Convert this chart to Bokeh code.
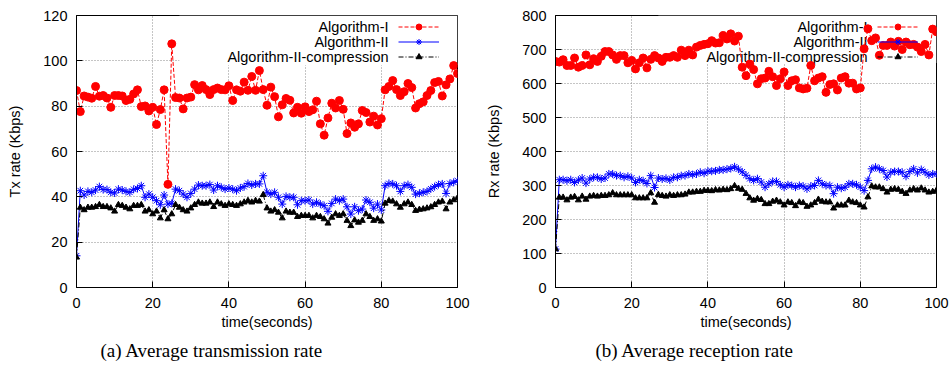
from bokeh.plotting import figure
from bokeh.models import (Legend, LegendItem, Label, BoxAnnotation, Range1d,
                          FixedTicker)
from bokeh.layouts import row
from bokeh.embed import file_html
from bokeh.resources import INLINE

# ---------------- data ----------------
time_s = list(range(0, 101))
time_ticks = [0, 20, 40, 60, 80, 100]
tx_ticks = [0, 20, 40, 60, 80, 100, 120]
rx_ticks = [0, 100, 200, 300, 400, 500, 600, 700, 800]
series_names = ["Algorithm-I", "Algorithm-II", "Algorithm-II-compression"]
captions = ["(a) Average transmission rate", "(b) Average reception rate"]

tx_alg1 = [86.9, 77.6, 84.5, 84.0, 83.5, 88.7, 84.4, 84.7, 83.6, 79.5,
           84.7, 84.7, 84.5, 82.5, 83.0, 85.4, 87.2, 79.8, 80.1, 77.9,
           79.5, 71.9, 78.5, 87.2, 45.5, 107.5, 83.8, 83.6, 78.8, 83.6,
           84.0, 89.5, 87.2, 89.1, 87.3, 85.1, 87.3, 88.0, 87.3, 87.2,
           89.0, 82.5, 87.2, 86.6, 90.6, 87.0, 93.1, 87.0, 95.7, 87.3,
           80.4, 88.4, 84.2, 75.3, 80.6, 83.4, 82.6, 77.0, 79.5, 76.9,
           79.7, 77.6, 78.4, 82.2, 72.2, 67.2, 74.8, 81.3, 79.2, 82.5,
           78.6, 67.9, 72.6, 70.7, 72.2, 78.1, 77.2, 73.0, 75.6, 71.7,
           74.5, 87.2, 88.7, 91.3, 87.3, 84.7, 86.4, 90.0, 88.2, 79.2,
           81.1, 81.9, 84.7, 86.9, 90.4, 90.9, 84.5, 89.4, 92.0, 97.9,
           94.4]
tx_alg2 = [14.0, 42.7, 40.8, 42.4, 42.0, 43.0, 44.5, 43.2, 43.2, 42.0,
           41.7, 43.4, 43.0, 42.4, 42.0, 43.3, 43.7, 44.9, 39.8, 41.2,
           39.8, 38.3, 36.5, 40.8, 36.8, 37.1, 43.4, 42.7, 41.2, 39.8,
           41.5, 43.4, 45.2, 44.9, 44.9, 45.4, 43.0, 44.9, 44.2, 43.4,
           43.9, 43.4, 42.7, 43.9, 44.5, 45.9, 45.2, 45.7, 45.7, 49.3,
           42.0, 41.2, 42.0, 39.8, 36.8, 40.2, 39.8, 39.8, 36.5, 38.3,
           38.3, 38.6, 36.8, 37.6, 36.8, 36.1, 33.6, 37.1, 39.0, 38.3,
           39.0, 35.6, 32.4, 35.6, 33.9, 34.6, 38.6, 37.6, 35.0, 36.8,
           34.2, 44.9, 45.9, 45.7, 44.9, 42.4, 44.9, 45.4, 44.2, 41.2,
           41.6, 42.0, 42.4, 43.5, 44.5, 45.4, 45.7, 41.5, 45.9, 46.4,
           47.1]
tx_alg2c = [13.3, 35.3, 34.2, 35.3, 35.3, 35.6, 36.5, 35.6, 35.6, 35.0,
            33.6, 36.5, 36.1, 35.3, 34.6, 36.1, 36.1, 36.5, 33.6, 34.2,
            32.4, 33.6, 30.6, 34.2, 30.2, 32.4, 36.5, 35.3, 34.2, 33.6,
            35.0, 36.5, 37.6, 37.1, 37.1, 37.6, 35.6, 37.6, 36.8, 36.1,
            36.8, 36.5, 36.1, 36.8, 37.6, 38.3, 37.6, 38.3, 38.0, 40.9,
            35.0, 33.6, 34.2, 33.1, 30.6, 33.6, 33.1, 33.1, 31.2, 31.7,
            31.7, 31.7, 30.6, 31.7, 31.2, 30.2, 28.3, 30.9, 32.4, 31.7,
            32.4, 29.5, 27.2, 29.7, 28.7, 29.5, 32.4, 31.2, 29.5, 30.2,
            29.2, 37.1, 38.3, 38.0, 36.8, 35.3, 36.8, 37.6, 36.5, 33.9,
            34.4, 34.6, 35.0, 35.5, 36.5, 37.6, 38.0, 34.6, 37.6, 38.6,
            39.5]

rx_alg1 = [665, 663, 670, 653, 653, 675, 648, 653, 684, 655,
           673, 665, 680, 694, 694, 684, 671, 682, 682, 661,
           668, 643, 661, 675, 646, 671, 682, 675, 665, 677,
           677, 682, 677, 698, 682, 698, 684, 707, 712, 715,
           717, 726, 719, 720, 741, 731, 746, 725, 739, 648,
           623, 657, 641, 599, 614, 616, 636, 620, 594, 614,
           634, 594, 608, 611, 587, 584, 586, 653, 608, 616,
           620, 574, 597, 599, 581, 616, 620, 601, 601, 584,
           587, 702, 761, 726, 734, 683, 712, 712, 722, 710,
           724, 700, 722, 714, 715, 707, 694, 715, 684, 760,
           752]
rx_alg2 = [113, 317, 317, 314, 317, 309, 316, 322, 307, 319,
           324, 324, 319, 322, 334, 334, 329, 329, 324, 327,
           322, 309, 317, 314, 306, 329, 294, 322, 319, 321,
           316, 324, 324, 329, 329, 334, 332, 334, 339, 336,
           342, 342, 343, 346, 346, 348, 350, 355, 348, 340,
           330, 320, 315, 320, 310, 295, 305, 312, 312, 302,
           295, 302, 300, 295, 300, 298, 290, 298, 300, 315,
           305, 300, 300, 276, 295, 292, 295, 305, 305, 302,
           295, 285, 315, 349, 354, 349, 344, 325, 339, 341,
           341, 339, 327, 341, 349, 337, 347, 339, 331, 334,
           334]
rx_alg2c = [113, 265, 265, 257, 265, 267, 257, 268, 259, 268,
            270, 268, 270, 270, 272, 278, 272, 272, 272, 272,
            272, 263, 263, 263, 263, 278, 250, 273, 270, 268,
            272, 270, 272, 272, 274, 280, 280, 282, 282, 285,
            285, 284, 287, 286, 288, 287, 290, 299, 291, 288,
            276, 263, 256, 261, 258, 246, 246, 253, 256, 251,
            242, 251, 249, 240, 251, 249, 238, 242, 249, 259,
            253, 251, 251, 233, 242, 242, 242, 256, 251, 249,
            242, 236, 266, 298, 295, 295, 290, 280, 288, 290,
            288, 282, 276, 286, 290, 286, 292, 286, 280, 282,
            286]

FONT = "Liberation Sans"
FS = "14.5px"


def make_panel(values, yticks, ylabel, caption, width, border_left, border_right,
               caption_offset, legend_loc, label_x, label_ys, mask_left, mask_bottom):
    ymax = yticks[-1]
    p = figure(width=width, height=371, output_backend="svg", toolbar_location=None,
               x_range=Range1d(time_ticks[0], time_ticks[-1]),
               y_range=Range1d(yticks[0], ymax),
               min_border_left=border_left, min_border_right=border_right,
               min_border_top=15, min_border_bottom=84,
               title=caption, title_location="below")
    p.background_fill_color = "white"
    p.border_fill_color = "white"
    p.outline_line_color = "black"
    p.outline_line_width = 1
    p.outline_line_alpha = 1

    p.title.align = "left"
    p.title.offset = caption_offset
    p.title.text_font = "Liberation Serif"
    p.title.text_font_size = "19px"
    p.title.text_font_style = "normal"
    p.title.text_color = "black"
    p.title.standoff = 10

    p.xaxis.ticker = FixedTicker(ticks=time_ticks)
    p.yaxis.ticker = FixedTicker(ticks=yticks)
    p.xaxis.axis_label = "time(seconds)"
    p.yaxis.axis_label = ylabel
    for ax in (p.xaxis, p.yaxis):
        ax.major_tick_in = 6
        ax.major_tick_out = 0
        ax.minor_tick_line_color = None
        ax.axis_line_color = "black"
        ax.major_tick_line_color = "black"
        ax.major_label_text_font = FONT
        ax.major_label_text_font_size = FS
        ax.major_label_text_color = "black"
        ax.axis_label_text_font = FONT
        ax.axis_label_text_font_size = FS
        ax.axis_label_text_font_style = "normal"
        ax.axis_label_text_color = "black"
    p.xaxis.major_label_standoff = 10
    p.xaxis.axis_label_standoff = 3
    p.yaxis.major_label_standoff = 9
    p.yaxis.axis_label_standoff = 17

    p.grid.grid_line_color = "#8a8a8a"
    p.grid.grid_line_dash = "1 2"
    p.grid.grid_line_width = 1

    # white key box that hides the grid behind the key
    p.add_layout(BoxAnnotation(left=mask_left, bottom=mask_bottom,
                               fill_color="white", fill_alpha=1.0,
                               line_color=None, level="underlay"))

    a1, a2, a3 = values
    l1 = p.line(time_s, a1, line_color="#ff0000", line_width=1, line_dash="4 2")
    s1 = p.scatter(time_s, a1, marker="circle", size=8, fill_color="#ff0000",
                   line_color="#ff0000")
    l2 = p.line(time_s, a2, line_color="#0000ff", line_width=1)
    s2 = p.scatter(time_s, a2, marker="asterisk", size=8, line_color="#0000ff",
                   line_width=1)
    l3 = p.line(time_s, a3, line_color="black", line_width=1, line_dash="5 2 1 2")
    s3 = p.scatter(time_s, a3, marker="triangle", size=6, fill_color="black",
                   line_color="black")

    for name, ly in zip(series_names, label_ys):
        p.add_layout(Label(x=label_x, y=ly, text=name, text_align="right",
                           text_baseline="middle", text_font=FONT,
                           text_font_size=FS, text_color="black",
                           level="underlay"))

    legend = Legend(items=[LegendItem(label=" ", renderers=[l1, s1]),
                           LegendItem(label=" ", renderers=[l2, s2]),
                           LegendItem(label=" ", renderers=[l3, s3])],
                    location=legend_loc, glyph_width=41, glyph_height=15,
                    label_height=15, label_width=0, label_standoff=0,
                    spacing=0, padding=0, margin=0,
                    border_line_color=None, background_fill_alpha=0,
                    label_text_font_size="8px", level="underlay")
    p.add_layout(legend)
    return p


p1 = make_panel((tx_alg1, tx_alg2, tx_alg2c), tx_ticks, "Tx rate (Kbps)", captions[0],
                width=470, border_left=76, border_right=13, caption_offset=24,
                legend_loc=(322, 223), label_x=81.9,
                label_ys=[114.8, 108.4, 101.8], mask_left=27, mask_bottom=98)
p2 = make_panel((rx_alg1, rx_alg2, rx_alg2c), rx_ticks, "Rx rate (Kbps)", captions[1],
                width=482, border_left=85, border_right=16, caption_offset=40,
                legend_loc=(322, 223), label_x=81.9,
                label_ys=[765, 722, 678], mask_left=27, mask_bottom=660)

layout = row(p1, p2)
open("out.html", "w").write(file_html(layout, INLINE))
